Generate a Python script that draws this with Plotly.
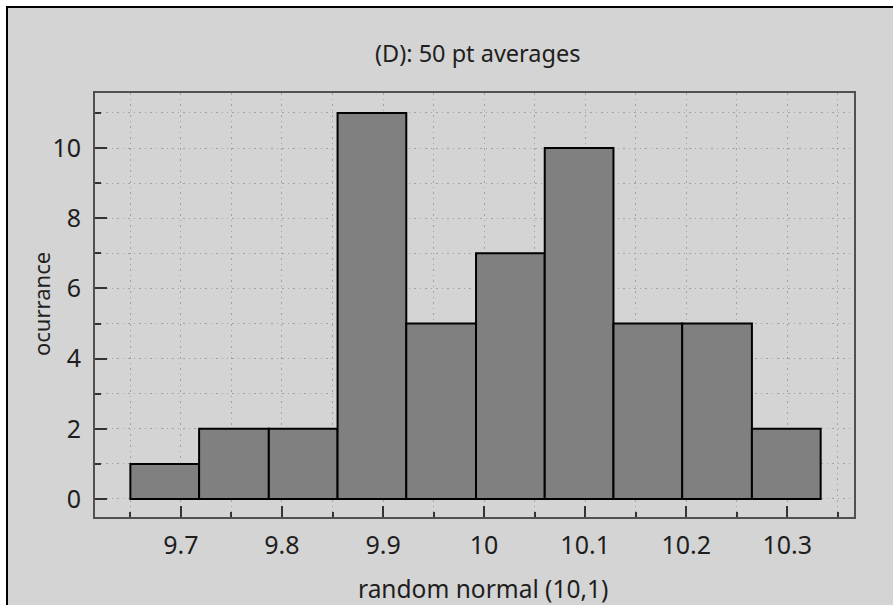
import plotly.graph_objects as go

# ---- data ----
bin_edges = [9.650, 9.718, 9.787, 9.855, 9.923, 9.992, 10.060, 10.128, 10.196, 10.265, 10.333]
counts = [1, 2, 2, 11, 5, 7, 10, 5, 5, 2]

title_text = "(D): 50 pt averages"
x_title = "random normal (10,1)"
y_title = "ocurrance"

centers = [(a + b) / 2 for a, b in zip(bin_edges[:-1], bin_edges[1:])]
widths = [b - a for a, b in zip(bin_edges[:-1], bin_edges[1:])]

W, H = 893, 605
L, R, T, B = 95, 39, 93, 88
PW, PH = W - L - R, H - T - B

def xp(px):
    return (px - L) / PW

def yp(py):
    return (H - B - py) / PH

FONT = "Noto Sans, DejaVu Sans, sans-serif"
BG = "#d4d4d4"
TXT = "#1e1e1e"
GRID = "#a2a2a2"
GDASH = "1.5px,4px"

fig = go.Figure(
    go.Bar(
        x=centers,
        y=counts,
        width=widths,
        marker=dict(color="#808080", line=dict(color="#000000", width=2)),
        hoverinfo="x+y",
    )
)

fig.update_layout(
    width=W,
    height=H,
    margin=dict(l=L, r=R, t=T, b=B, pad=0),
    paper_bgcolor=BG,
    plot_bgcolor=BG,
    showlegend=False,
    font=dict(family=FONT, size=25, color=TXT),
    xaxis=dict(
        range=[9.615, 10.366],
        tickmode="linear",
        tick0=9.7,
        dtick=0.1,
        ticks="inside",
        ticklen=11,
        tickwidth=1.5,
        tickcolor="#333333",
        showline=True,
        mirror=True,
        linecolor="#505050",
        linewidth=2,
        zeroline=False,
        ticklabelstandoff=5,
        tickfont=dict(size=25, color=TXT),
        showgrid=True, gridcolor=GRID, gridwidth=1, griddash=GDASH,
        minor=dict(dtick=0.05, ticks="inside", ticklen=5, tickwidth=1.5,
                   tickcolor="#333333", showgrid=True, gridcolor=GRID,
                   griddash=GDASH, gridwidth=1),
    ),
    yaxis=dict(
        range=[-0.513, 11.567],
        tickmode="linear",
        tick0=0,
        dtick=2,
        ticks="inside",
        ticklen=12,
        tickwidth=1.5,
        tickcolor="#333333",
        showline=True,
        mirror=True,
        linecolor="#505050",
        linewidth=2,
        zeroline=False,
        ticklabelstandoff=7,
        tickfont=dict(size=25, color=TXT),
        showgrid=True, gridcolor=GRID, gridwidth=1, griddash=GDASH,
        minor=dict(dtick=1, ticks="inside", ticklen=6, tickwidth=1.5,
                   tickcolor="#333333", showgrid=True, gridcolor=GRID,
                   griddash=GDASH, gridwidth=1),
    ),
    shapes=[
        dict(type="rect", xref="paper", yref="paper", x0=xp(-20), x1=xp(920),
             y0=yp(6), y1=yp(-20), fillcolor="white", line=dict(width=0), layer="below"),
        dict(type="rect", xref="paper", yref="paper", x0=xp(-20), x1=xp(6),
             y0=yp(620), y1=yp(-20), fillcolor="white", line=dict(width=0), layer="below"),
        dict(type="line", xref="paper", yref="paper", x0=xp(6), x1=xp(920),
             y0=yp(7), y1=yp(7), line=dict(color="black", width=2), layer="below"),
        dict(type="line", xref="paper", yref="paper", x0=xp(7), x1=xp(7),
             y0=yp(6), y1=yp(620), line=dict(color="black", width=2), layer="below"),
    ],
    annotations=[
        dict(text=title_text, xref="paper", yref="paper", x=xp(477), y=yp(53),
             xanchor="center", yanchor="middle", showarrow=False,
             font=dict(size=23.5, color=TXT)),
        dict(text=x_title, xref="paper", yref="paper", x=xp(483), y=yp(588),
             xanchor="center", yanchor="middle", showarrow=False,
             font=dict(size=24.5, color=TXT)),
        dict(text=y_title, xref="paper", yref="paper", x=xp(41), y=yp(304),
             xanchor="center", yanchor="middle", showarrow=False, textangle=-90,
             font=dict(size=22, color=TXT)),
    ],
)

fig.write_html("out.html")
